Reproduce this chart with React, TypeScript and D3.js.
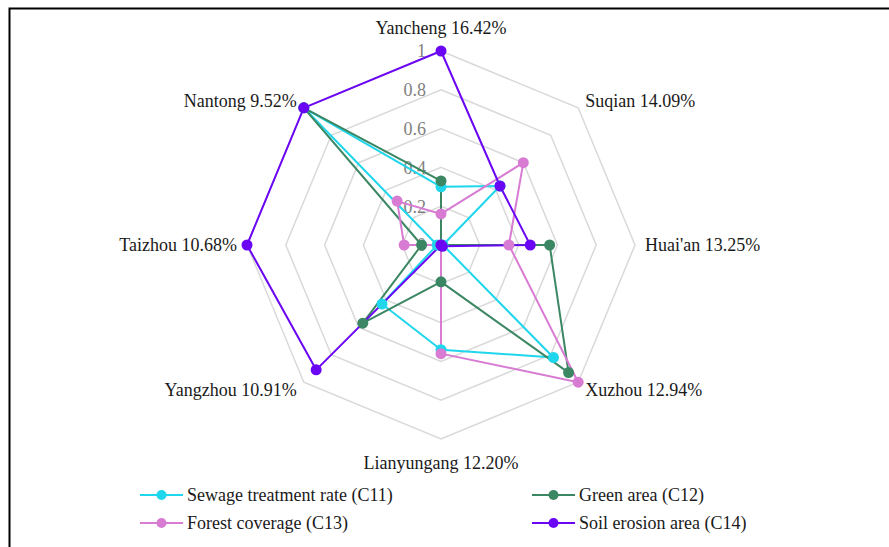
import React from "react"
import * as d3 from "d3"

// axes (clockwise from top)
const cities = [
  "Yancheng 16.42%",
  "Suqian 14.09%",
  "Huai'an 13.25%",
  "Xuzhou 12.94%",
  "Lianyungang 12.20%",
  "Yangzhou 10.91%",
  "Taizhou 10.68%",
  "Nantong 9.52%",
]

const sewage = [0.3, 0.43, 0.01, 0.82, 0.54, 0.43, 0.02, 1.0]
const greenArea = [0.33, 0.0, 0.56, 0.93, 0.19, 0.57, 0.1, 1.0]
const forest = [0.16, 0.6, 0.35, 1.0, 0.56, 0.0, 0.19, 0.32]
const soil = [1.0, 0.43, 0.46, 0.01, 0.0, 0.91, 1.0, 1.0]

const ticks = [0, 0.2, 0.4, 0.6, 0.8, 1]

const series = [
  { name: "Sewage treatment rate (C11)", values: sewage, color: "#1fd6ec" },
  { name: "Green area (C12)", values: greenArea, color: "#3b8663" },
  { name: "Forest coverage (C13)", values: forest, color: "#d87bd3" },
  { name: "Soil erosion area (C14)", values: soil, color: "#6a06f4" },
]

const W = 889
const H = 547
const cx = 441
const cy = 245
const R = 194
const font = "'Liberation Serif', 'DejaVu Serif', serif"

export default function App() {
  const r = d3.scaleLinear().domain([0, 1]).range([0, R])
  const ang = (i: number) => (i / cities.length) * 2 * Math.PI

  const xy = (i: number, v: number): [number, number] => [
    cx + r(v) * Math.sin(ang(i)),
    cy - r(v) * Math.cos(ang(i)),
  ]

  // radar polygon (also used for the grid octagons)
  const radial = d3
    .lineRadial<number>()
    .angle((_, i) => ang(i))
    .radius((d) => r(d))
    .curve(d3.curveLinearClosed)

  return (
    <svg width={W} height={H} style={{ position: "absolute", left: 0, top: 0, background: "#fff" }}>
      <rect x={9.5} y={8.5} width={1000} height={1000} fill="#fff" stroke="#000" strokeWidth={2} />

      <g transform={`translate(${cx},${cy})`}>
        {ticks.slice(1).map((t) => (
          <path
            key={t}
            d={radial(cities.map(() => t)) || ""}
            fill="none"
            stroke="#d9d9d9"
            strokeWidth={1.5}
          />
        ))}
      </g>

      {ticks.map((t) => (
        <text
          key={t}
          x={cx - 15}
          y={cy - r(t)}
          dy="0.35em"
          textAnchor="end"
          fontFamily={font}
          fontSize={18}
          fill="#7f7f7f"
        >
          {d3.format("~g")(t)}
        </text>
      ))}

      <g transform={`translate(${cx},${cy})`}>
        {series.map((s) => (
          <path
            key={s.name}
            d={radial(s.values) || ""}
            fill="none"
            stroke={s.color}
            strokeWidth={2}
            strokeLinejoin="round"
          />
        ))}
      </g>
      {series.map((s) =>
        s.values.map((v, i) => {
          const [x, y] = xy(i, v)
          return <circle key={s.name + i} cx={x} cy={y} r={5.5} fill={s.color} />
        })
      )}

      {cities.map((c, i) => {
        const sn = Math.sin(ang(i))
        const vertical = Math.abs(sn) < 0.1
        const [x, y] = xy(i, vertical ? 1.12 : 1.052)
        const anchor = vertical ? "middle" : sn > 0 ? "start" : "end"
        return (
          <text
            key={c}
            x={x}
            y={y}
            dy="0.35em"
            textAnchor={anchor}
            fontFamily={font}
            fontSize={18}
            fill="#1a1a1a"
          >
            {c}
          </text>
        )
      })}

      {series.map((s, i) => {
        const col = i % 2
        const row = Math.floor(i / 2)
        const lx = col === 0 ? 140 : 532
        const ly = 495 + row * 28
        return (
          <g key={s.name}>
            <line x1={lx} x2={lx + 43} y1={ly} y2={ly} stroke={s.color} strokeWidth={2} />
            <circle cx={lx + 21.5} cy={ly} r={5} fill={s.color} />
            <text
              x={lx + 47}
              y={ly}
              dy="0.35em"
              fontFamily={font}
              fontSize={18}
              fill="#1a1a1a"
            >
              {s.name}
            </text>
          </g>
        )
      })}
    </svg>
  )
}
